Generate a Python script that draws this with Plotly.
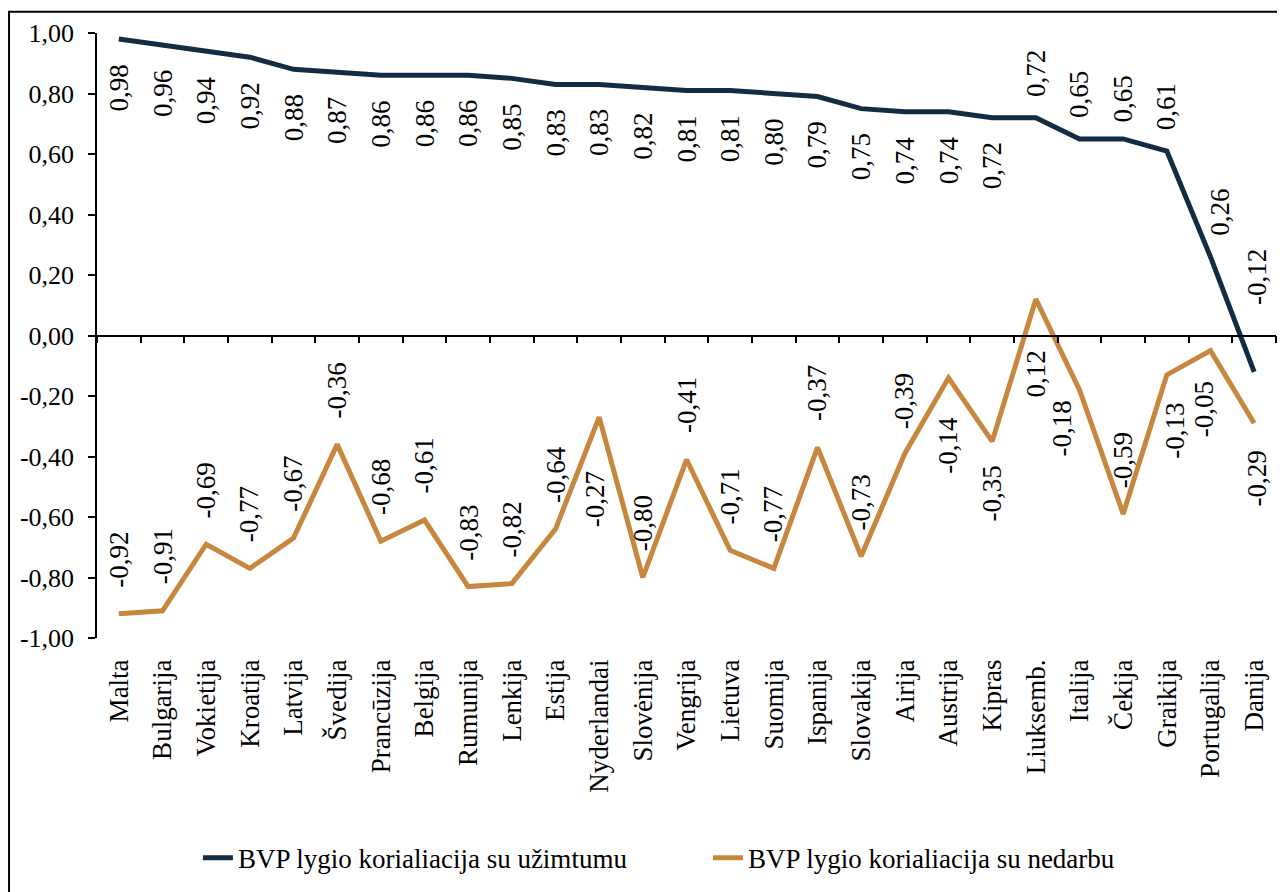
import plotly.graph_objects as go

# ---- data -------------------------------------------------------------
COUNTRIES = [
    "Malta", "Bulgarija", "Vokietija", "Kroatija", "Latvija", "Švedija",
    "Prancūzija", "Belgija", "Rumunija", "Lenkija", "Estija", "Nyderlandai",
    "Slovėnija", "Vengrija", "Lietuva", "Suomija", "Ispanija", "Slovakija",
    "Airija", "Austrija", "Kipras", "Liuksemb.", "Italija", "Čekija",
    "Graikija", "Portugalija", "Danija",
]
EMPLOYMENT = [
    0.98, 0.96, 0.94, 0.92, 0.88, 0.87, 0.86, 0.86, 0.86, 0.85, 0.83, 0.83,
    0.82, 0.81, 0.81, 0.80, 0.79, 0.75, 0.74, 0.74, 0.72, 0.72, 0.65, 0.65,
    0.61, 0.26, -0.12,
]
UNEMPLOYMENT = [
    -0.92, -0.91, -0.69, -0.77, -0.67, -0.36, -0.68, -0.61, -0.83, -0.82,
    -0.64, -0.27, -0.80, -0.41, -0.71, -0.77, -0.37, -0.73, -0.39, -0.14,
    -0.35, 0.12, -0.18, -0.59, -0.13, -0.05, -0.29,
]
SERIES_NAMES = [
    "BVP lygio korialiacija su užimtumu",
    "BVP lygio korialiacija su nedarbu",
]
Y_TICKS = [-1.0, -0.8, -0.6, -0.4, -0.2, 0.0, 0.2, 0.4, 0.6, 0.8, 1.0]

# ---- style ------------------------------------------------------------
NAVY = "#142c41"
ORANGE = "#c8873f"
FONT = "'Liberation Serif', 'Times New Roman', serif"

# label gap in px (+ above the point, - below) and horizontal nudge
EMP_GAP = [-24] * 21 + [20, 20, 15, 20, 20, 66]
EMP_DX = [0] * 25 + [10, 3]
UNEMP_GAP = [25] * 11 + [-53] + [25] * 6 + [23, -38, -23, -50, -10, 25, -27, -30, -26]
UNEMP_DX = [0] * 11 + [-4] + [0] * 10 + [-18, 0, 8, -7, 3]


def fmt(v):
    return f"{v:.2f}".replace(".", ",")


fig = go.Figure()
fig.add_trace(go.Scatter(
    x=COUNTRIES, y=EMPLOYMENT, name=SERIES_NAMES[0], mode="lines",
    line=dict(color=NAVY, width=5),
))
fig.add_trace(go.Scatter(
    x=COUNTRIES, y=UNEMPLOYMENT, name=SERIES_NAMES[1], mode="lines",
    line=dict(color=ORANGE, width=5), xaxis="x2",
))

annotations = []
for values, gaps, dxs in [(EMPLOYMENT, EMP_GAP, EMP_DX), (UNEMPLOYMENT, UNEMP_GAP, UNEMP_DX)]:
    for c, v, g, dx in zip(COUNTRIES, values, gaps, dxs):
        annotations.append(dict(
            x=c, y=v, xref="x", yref="y", text=fmt(v), showarrow=False,
            textangle=-90, xanchor="center",
            yanchor="bottom" if g > 0 else "top",
            yshift=g, xshift=dx, borderpad=0,
            font=dict(family=FONT, size=27, color="black"),
        ))

# the page body keeps an 8px margin, so the figure is 8px smaller than the window
fig.update_layout(
    width=1277, height=884,
    paper_bgcolor="white", plot_bgcolor="white",
    margin=dict(l=89, r=9, t=25, b=254),
    font=dict(family=FONT, size=27, color="black"),
    showlegend=True,
    legend=dict(
        orientation="h", x=0.0856, xanchor="left", y=-0.364, yanchor="middle",
        entrywidth=465, font=dict(family=FONT, size=27, color="black"),
        bgcolor="rgba(0,0,0,0)",
    ),
    xaxis=dict(
        type="category", categoryorder="array", categoryarray=COUNTRIES,
        range=[-0.5, len(COUNTRIES) - 0.5], showline=False, ticks="",
        showgrid=False, zeroline=False, tickangle=-90, ticklabelstandoff=15,
        tickfont=dict(family=FONT, size=27, color="black"), automargin=False,
    ),
    xaxis2=dict(
        type="category", categoryorder="array", categoryarray=COUNTRIES,
        overlaying="x", matches="x", anchor="free", position=0.5,
        range=[-0.5, len(COUNTRIES) - 0.5],
        showline=True, linecolor="black", linewidth=1.5,
        ticks="outside", tickson="boundaries", ticklen=7, tickwidth=1.5,
        tickcolor="black", showticklabels=False, showgrid=False, automargin=False,
    ),
    yaxis=dict(
        range=[-1, 1], tickvals=Y_TICKS, ticktext=[fmt(v) for v in Y_TICKS],
        showline=True, linecolor="black", linewidth=1.5,
        ticks="outside", ticklen=7, tickwidth=1.5, tickcolor="black",
        showgrid=False, zeroline=False, ticklabelstandoff=9, automargin=False,
        tickfont=dict(family=FONT, size=26, color="black"),
    ),
    annotations=annotations,
    shapes=[dict(
        type="rect", xref="paper", yref="paper",
        x0=-0.0746, x1=1.02, y0=-0.5, y1=1.035,
        line=dict(color="black", width=2), fillcolor="rgba(0,0,0,0)",
        layer="below",
    )],
)

fig.write_html("out.html")
